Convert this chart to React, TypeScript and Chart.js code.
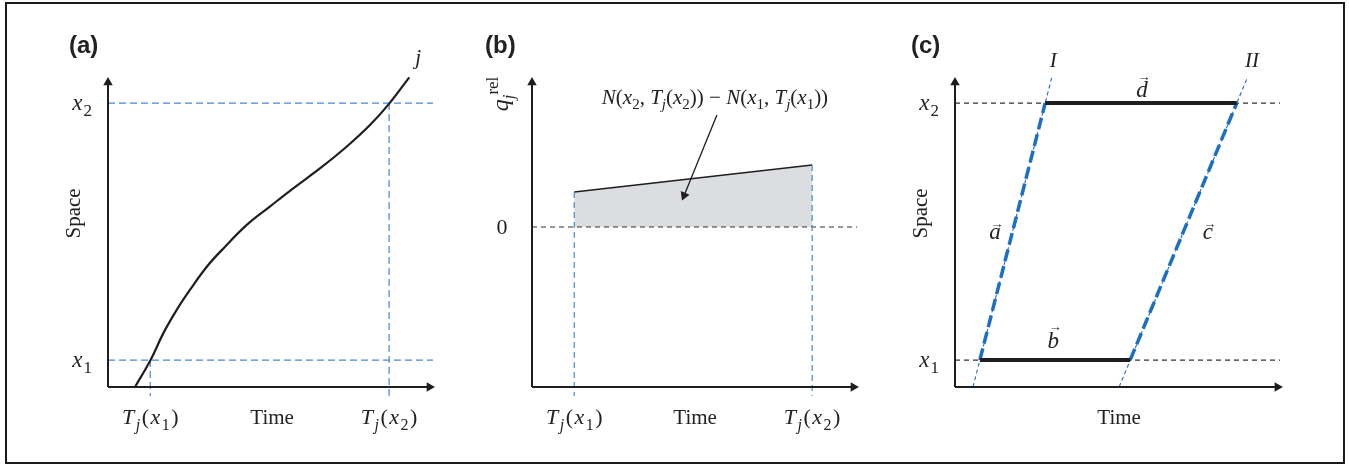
import React, { useEffect, useRef } from "react";
import { Chart, registerables } from "chart.js";

Chart.register(...registerables);

// ---------------- data ----------------
// Panel (a): vehicle trajectory j in time-space
const aTrajTime = [0.83, 1.31, 1.7, 2.11, 2.52, 3.04, 3.55, 4.27, 4.98, 5.7, 6.52, 7.34, 8.06, 8.66, 9.27];
const aTrajSpace = [0, 0.87, 1.73, 2.48, 3.13, 3.88, 4.47, 5.23, 5.82, 6.41, 7.05, 7.75, 8.45, 9.15, 9.99];
const aTimeTicks = [1.3, 8.65]; // T_j(x1), T_j(x2)
const aSpaceTicks = [0.87, 9.16]; // x1, x2

// Panel (b): relative flow q_j^rel
const bTimeTicks = [1.3, 8.62];
const bFlowQ = [3.5, 6.2];
const bArrowTime = [5.69, 4.68];
const bArrowQ = [11.2, 3.16];

// Panel (c): wave lines I, II and the parallelogram a, b, c, d
const cSpaceTicks = [0.87, 9.16];
const cWaveITime = [0.554, 2.98];
const cWaveISpace = [0, 10];
const cWaveIITime = [5.05, 8.98];
const cWaveIISpace = [0, 9.94];
const cSideATime = [0.765, 2.776];
const cSideCTime = [5.39, 8.67];
const cSideBTime = [0.765, 5.39];
const cSideDTime = [2.776, 8.67];

// ---------------- styles ----------------
const SERIF = '"Liberation Serif", "DejaVu Serif", serif';
const SANS = '"Liberation Sans", Arial, sans-serif';
const INK = "#1e1e1e";
const TXT = "#222222";
const BLUE_THIN = "#4a86d2";
const BLUE_BOLD = "#1c6fc2";
const DASH_INK = "#333333";

type Run = { t: string; i?: boolean; s?: "sub" | "sup"; b?: boolean };
type Label = {
  runs: Run[];
  x: number;
  y: number;
  dx?: number;
  dy?: number;
  size: number;
  align?: "left" | "center" | "right";
  rotate?: boolean;
  family?: string;
  vec?: boolean;
  spacing?: number;
};

const it = (t: string): Run => ({ t, i: true });
const up = (t: string): Run => ({ t });
const sub = (t: string, i = false): Run => ({ t, s: "sub", i });
const sup = (t: string): Run => ({ t, s: "sup" });
const bold = (t: string): Run => ({ t, b: true });

const TjOf = (n: string): Run[] => [it("T"), sub("j", true), up("("), it("x"), sub(n), up(")")];
const xOf = (n: string): Run[] => [it("x"), sub(n)];

function runFont(r: Run, size: number, family: string) {
  const sz = r.s ? Math.round(size * 0.72) : size;
  return `${r.i ? "italic " : ""}${r.b ? "bold " : ""}${sz}px ${family}`;
}

function drawRuns(
  ctx: CanvasRenderingContext2D,
  runs: Run[],
  x: number,
  y: number,
  size: number,
  align: "left" | "center" | "right",
  family: string,
  spacing = 0
) {
  const parts = runs.map((r) => {
    const f = runFont(r, size, family);
    ctx.font = f;
    return { r, f, w: ctx.measureText(r.t).width + spacing };
  });
  const total = parts.reduce((s, p) => s + p.w, 0) - spacing;
  let cx = align === "left" ? x : align === "right" ? x - total : x - total / 2;
  const start = cx;
  ctx.textAlign = "left";
  ctx.textBaseline = "alphabetic";
  for (const p of parts) {
    ctx.font = p.f;
    const dy = p.r.s === "sub" ? size * 0.25 : p.r.s === "sup" ? -size * 0.42 : 0;
    ctx.fillText(p.r.t, cx, y + dy);
    cx += p.w;
  }
  return { start, total };
}

function labelPlugin(labels: Label[]) {
  return {
    id: "richLabels",
    afterDatasetsDraw(chart: any) {
      const ctx: CanvasRenderingContext2D = chart.ctx;
      const xs = chart.scales.x;
      const ys = chart.scales.y;
      ctx.save();
      ctx.fillStyle = TXT;
      for (const l of labels) {
        const px = xs.getPixelForValue(l.x) + (l.dx || 0);
        const py = ys.getPixelForValue(l.y) + (l.dy || 0);
        const fam = l.family || SERIF;
        if (l.rotate) {
          ctx.save();
          ctx.translate(px, py);
          ctx.rotate(-Math.PI / 2);
          drawRuns(ctx, l.runs, 0, 0, l.size, "center", fam, l.spacing || 0);
          ctx.restore();
        } else {
          const res = drawRuns(ctx, l.runs, px, py, l.size, l.align || "center", fam, l.spacing || 0);
          if (l.vec) {
            ctx.font = runFont(l.runs[0], l.size, fam);
            const asc = ctx.measureText(l.runs[0].t).actualBoundingBoxAscent;
            ctx.font = `13px ${SERIF}`;
            ctx.textAlign = "center";
            ctx.textBaseline = "middle";
            ctx.fillText("\u2192", res.start + res.total / 2 + 2, py - asc - 4);
          }
        }
      }
      ctx.restore();
    },
  };
}

const pts = (xs: number[], ys: number[]) => xs.map((x, k) => ({ x, y: ys[k] }));

function line(data: { x: number; y: number }[], color: string, width: number, dash: number[] = [], extra: any = {}) {
  return {
    data,
    borderColor: color,
    borderWidth: width,
    borderDash: dash,
    pointRadius: 0,
    fill: false,
    clip: false,
    tension: 0,
    ...extra,
  };
}

function head(x: number, y: number, rotation: any) {
  return {
    data: [{ x, y }],
    showLine: false,
    pointRadius: 5.5,
    pointStyle: "triangle",
    pointRotation: rotation,
    pointBackgroundColor: INK,
    pointBorderColor: INK,
    pointBorderWidth: 0,
    clip: false,
  };
}

type Panel = {
  xMin: number;
  xMax: number;
  yMin: number;
  yMax: number;
  padding: { left: number; right: number; top: number; bottom: number };
  datasets: any[];
  labels: Label[];
};

function axes(yMin: number, yTop: number, xRight: number) {
  return [
    head(0, yTop, 0),
    head(xRight, yMin, 90),
    line(pts([0, 0], [yMin, yTop]), INK, 2),
    line(pts([0, xRight], [yMin, yMin]), INK, 2),
  ];
}

// ---------------- panels ----------------
const panelA: Panel = {
  xMin: 0,
  xMax: 10,
  yMin: 0,
  yMax: 10,
  padding: { left: 98, right: 17, top: 72, bottom: 73 },
  datasets: [
    ...axes(0, 9.82, 9.89),
    line(pts(aTrajTime, aTrajSpace), INK, 2.2, [], { tension: 0.4 }),
    ...aSpaceTicks.map((s) => line(pts([0, 10], [s, s]), BLUE_THIN, 1.2, [7, 4])),
    ...aTimeTicks.map((t, k) => line(pts([t, t], [aSpaceTicks[k], -0.29]), BLUE_THIN, 1.2, [7, 4])),
  ],
  labels: [
    { runs: [bold("(a)")], x: 0, y: 10, dx: -39, dy: -24, size: 24, align: "left", family: SANS },
    ...aTimeTicks.map((t, k) => ({ runs: TjOf(String(k + 1)), x: t, y: 0, dy: 37, size: 22, spacing: 1.5 } as Label)),
    { runs: [up("Time")], x: 5.05, y: 0, dy: 37, size: 21 },
    ...aSpaceTicks.map((s, k) => ({ runs: xOf(String(k + 1)), x: 0, y: s, dx: -16, dy: 7, size: 23, align: "right", spacing: 1 } as Label)),
    { runs: [up("Space")], x: 0, y: 5.6, dx: -28, size: 21, rotate: true },
    { runs: [it("j")], x: 9.54, y: 10, dy: -13, size: 21 },
  ],
};

const panelB: Panel = {
  xMin: 0,
  xMax: 10,
  yMin: -16,
  yMax: 15,
  padding: { left: 82, right: 33, top: 72, bottom: 73 },
  datasets: [
    ...axes(-16, 14.45, 9.89),
    {
      data: pts(bArrowTime.slice(1), bArrowQ.slice(1)),
      showLine: false,
      pointRadius: 5.5,
      pointStyle: "triangle",
      pointRotation: (c: any) => {
        const ch = c.chart;
        const dx = ch.scales.x.getPixelForValue(bArrowTime[1]) - ch.scales.x.getPixelForValue(bArrowTime[0]);
        const dy = ch.scales.y.getPixelForValue(bArrowQ[1]) - ch.scales.y.getPixelForValue(bArrowQ[0]);
        return (Math.atan2(dx, -dy) * 180) / Math.PI;
      },
      pointBackgroundColor: INK,
      pointBorderWidth: 0,
      clip: false,
    },
    line(pts(bArrowTime, bArrowQ), INK, 1.3),
    ...bTimeTicks.map((t, k) => line(pts([t, t], [bFlowQ[k], -16.9]), BLUE_THIN, 1.2, [6, 4])),
    line(pts([0, 10], [0, 0]), DASH_INK, 1.2, [5, 4]),
    line(pts(bTimeTicks, bFlowQ), INK, 1.3, [], { fill: { value: 0 }, backgroundColor: "#dcdde0" }),
  ],
  labels: [
    { runs: [bold("(b)")], x: 0, y: 15, dx: -47, dy: -24, size: 24, align: "left", family: SANS },
    ...bTimeTicks.map((t, k) => ({ runs: TjOf(String(k + 1)), x: t, y: -16, dy: 37, size: 22, spacing: 1.5 } as Label)),
    { runs: [up("Time")], x: 5.02, y: -16, dy: 37, size: 21 },
    { runs: [up("0")], x: 0, y: 0, dx: -30, dy: 7, size: 22 },
    { runs: [it("q"), sub("j", true), sup("rel")], x: 0, y: 13.3, dx: -24, size: 24, rotate: true },
    {
      runs: [
        it("N"), up("("), it("x"), sub("2"), up(", "), it("T"), sub("j", true), up("("), it("x"), sub("2"), up("))"),
        up(" \u2212 "),
        it("N"), up("("), it("x"), sub("1"), up(", "), it("T"), sub("j", true), up("("), it("x"), sub("1"), up("))"),
      ],
      x: 5.63,
      y: 12.3,
      size: 21,
    },
  ],
};

const panelC: Panel = {
  xMin: 0,
  xMax: 10,
  yMin: 0,
  yMax: 10,
  padding: { left: 65, right: 60, top: 72, bottom: 73 },
  datasets: [
    ...axes(0, 9.82, 9.92),
    line(pts(cSideBTime, [cSpaceTicks[0], cSpaceTicks[0]]), INK, 4),
    line(pts(cSideDTime, [cSpaceTicks[1], cSpaceTicks[1]]), INK, 4),
    line(pts(cSideATime, cSpaceTicks), BLUE_BOLD, 3.5, [12, 5]),
    line(pts(cSideCTime, cSpaceTicks), BLUE_BOLD, 3.5, [12, 5]),
    line(pts(cWaveITime, cWaveISpace), BLUE_BOLD, 1.1, [4, 3]),
    line(pts(cWaveIITime, cWaveIISpace), BLUE_BOLD, 1.1, [4, 3]),
    ...cSpaceTicks.map((s) => line(pts([0, 10], [s, s]), DASH_INK, 1.2, [5, 4])),
  ],
  labels: [
    { runs: [bold("(c)")], x: 0, y: 10, dx: -44, dy: -24, size: 24, align: "left", family: SANS },
    { runs: [up("Time")], x: 5.05, y: 0, dy: 37, size: 21 },
    { runs: [up("Space")], x: 0, y: 5.6, dx: -28, size: 21, rotate: true },
    ...cSpaceTicks.map((s, k) => ({ runs: xOf(String(k + 1)), x: 0, y: s, dx: -16, dy: 7, size: 23, align: "right", spacing: 1 } as Label)),
    { runs: [it("I")], x: 3.02, y: 10, dy: -10, size: 21 },
    { runs: [it("II")], x: 9.14, y: 10, dy: -10, size: 21, spacing: 1 },
    { runs: [it("a")], x: 1.23, y: 4.77, size: 23, vec: true },
    { runs: [it("c")], x: 7.78, y: 4.77, size: 23, vec: true },
    { runs: [it("b")], x: 3.02, y: 1.26, size: 23, vec: true },
    { runs: [it("d")], x: 5.75, y: 9.35, size: 23, vec: true },
  ],
};

function build(canvas: HTMLCanvasElement, p: Panel) {
  return new Chart(canvas, {
    type: "line",
    data: { datasets: p.datasets },
    options: {
      animation: false,
      responsive: false,
      events: [],
      layout: { padding: p.padding },
      scales: {
        x: { type: "linear", display: false, min: p.xMin, max: p.xMax },
        y: { type: "linear", display: false, min: p.yMin, max: p.yMax },
      },
      plugins: { legend: { display: false }, tooltip: { enabled: false } },
      elements: { point: { radius: 0, hoverRadius: 0 } },
    } as any,
    plugins: [labelPlugin(p.labels)],
  } as any);
}

export default function App() {
  const refA = useRef<HTMLCanvasElement>(null);
  const refB = useRef<HTMLCanvasElement>(null);
  const refC = useRef<HTMLCanvasElement>(null);

  useEffect(() => {
    const charts = [
      build(refA.current!, panelA),
      build(refB.current!, panelB),
      build(refC.current!, panelC),
    ];
    return () => charts.forEach((c) => c.destroy());
  }, []);

  return (
    <div style={{ position: "absolute", left: 0, top: 0, width: 1349, height: 465, background: "#fff", overflow: "hidden" }}>
      <div
        style={{
          position: "absolute",
          left: 5,
          top: 2,
          width: 1336,
          height: 458,
          border: "2px solid #1a1a1a",
        }}
      />
      <canvas ref={refA} width={440} height={455} style={{ position: "absolute", left: 10, top: 5 }} />
      <canvas ref={refB} width={440} height={455} style={{ position: "absolute", left: 450, top: 5 }} />
      <canvas ref={refC} width={450} height={455} style={{ position: "absolute", left: 890, top: 5 }} />
    </div>
  );
}
